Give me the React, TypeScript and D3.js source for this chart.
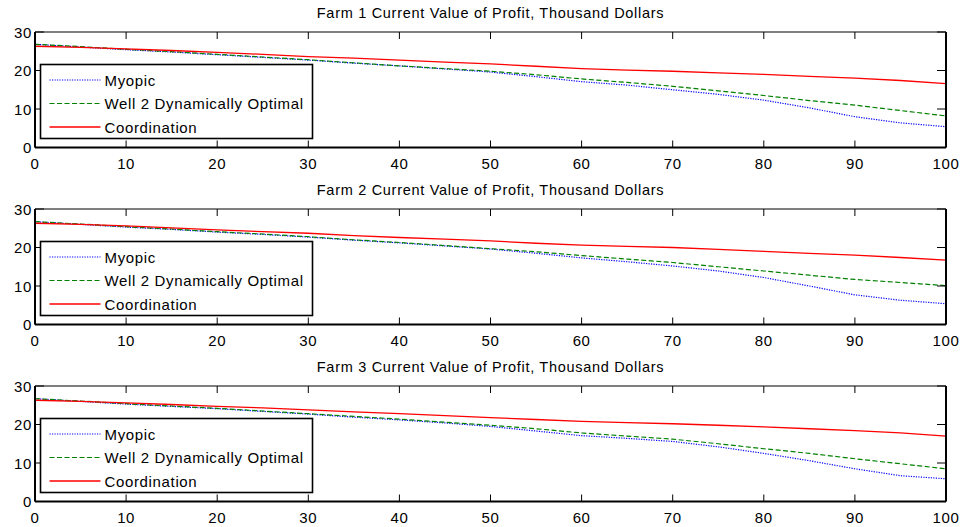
import React, { useEffect, useRef } from 'react'
import * as d3 from 'd3'

const periods = [0, 5, 10, 15, 20, 25, 30, 35, 40, 45, 50, 55, 60, 65, 70, 75, 80, 85, 90, 95, 100]

const farm1Myopic = [26.8, 26.1, 25.4, 24.8, 24.1, 23.4, 22.7, 21.9, 21.2, 20.4, 19.6, 18.4, 17.1, 16.2, 15.0, 13.8, 12.3, 10.3, 8.0, 6.4, 5.4]
const farm1Optimal = [26.8, 26.2, 25.5, 24.9, 24.2, 23.5, 22.8, 22.0, 21.2, 20.5, 19.8, 18.9, 17.8, 16.9, 15.9, 14.7, 13.5, 12.2, 11.0, 9.6, 8.2]
const farm1Coord = [26.3, 26.0, 25.6, 25.2, 24.7, 24.2, 23.6, 23.2, 22.7, 22.2, 21.7, 21.1, 20.5, 20.1, 19.8, 19.4, 19.0, 18.5, 18.0, 17.4, 16.6]

const farm2Myopic = [26.7, 26.0, 25.3, 24.7, 24.0, 23.4, 22.7, 21.9, 21.2, 20.4, 19.6, 18.5, 17.3, 16.3, 15.2, 13.9, 12.2, 10.0, 7.7, 6.3, 5.4]
const farm2Optimal = [26.7, 26.1, 25.4, 24.8, 24.1, 23.5, 22.8, 22.0, 21.3, 20.5, 19.7, 18.9, 17.9, 17.0, 16.1, 15.0, 13.9, 12.8, 11.7, 10.9, 10.1]
const farm2Coord = [26.3, 26.0, 25.6, 25.1, 24.6, 24.1, 23.7, 23.1, 22.6, 22.2, 21.7, 21.1, 20.6, 20.3, 20.0, 19.5, 19.0, 18.5, 18.0, 17.4, 16.7]

const farm3Myopic = [26.7, 26.0, 25.3, 24.7, 24.1, 23.4, 22.7, 21.9, 21.2, 20.4, 19.5, 18.3, 17.1, 16.4, 15.6, 14.2, 12.5, 10.6, 8.5, 6.7, 5.9]
const farm3Optimal = [26.7, 26.1, 25.4, 24.8, 24.2, 23.5, 22.8, 22.1, 21.4, 20.6, 19.8, 18.9, 17.8, 17.0, 16.2, 15.0, 13.7, 12.5, 11.1, 9.8, 8.5]
const farm3Coord = [26.3, 26.0, 25.6, 25.2, 24.7, 24.3, 23.8, 23.3, 22.8, 22.3, 21.8, 21.3, 20.8, 20.5, 20.2, 19.8, 19.4, 18.9, 18.4, 17.8, 17.0]

const titles = [
  'Farm 1 Current Value of Profit, Thousand Dollars',
  'Farm 2 Current Value of Profit, Thousand Dollars',
  'Farm 3 Current Value of Profit, Thousand Dollars',
]
const seriesNames = ['Myopic', 'Well 2 Dynamically Optimal', 'Coordination']
const xTicks = [0, 10, 20, 30, 40, 50, 60, 70, 80, 90, 100]
const yTicks = [0, 10, 20, 30]

const panels = [
  [farm1Myopic, farm1Optimal, farm1Coord],
  [farm2Myopic, farm2Optimal, farm2Coord],
  [farm3Myopic, farm3Optimal, farm3Coord],
]

const styles = [
  { color: '#0000ff', dash: '1.2 1.3', width: 1.2 },
  { color: '#008000', dash: '5 2.5', width: 1.2 },
  { color: '#ff0000', dash: null, width: 1.3 },
]

const W = 962
const H = 527
const FONT = 'Liberation Sans, Arial, Helvetica, sans-serif'

export default function App() {
  const ref = useRef<SVGSVGElement>(null)

  useEffect(() => {
    const svg = d3.select(ref.current)
    svg.selectAll('*').remove()
    svg.append('rect').attr('width', W).attr('height', H).attr('fill', '#fff')

    const left = 35
    const right = 946
    const tops = [32, 209, 386]
    const plotH = 115.5

    const x = d3.scaleLinear().domain([0, 100]).range([left, right])

    panels.forEach((series, pi) => {
      const top = tops[pi]
      const bottom = top + plotH
      const y = d3.scaleLinear().domain([0, 30]).range([bottom, top])
      const g = svg.append('g')

      // title
      g.append('text')
        .attr('x', (left + right) / 2)
        .attr('y', top - 14)
        .attr('text-anchor', 'middle')
        .attr('font-family', FONT)
        .attr('font-size', 14.5)
        .attr('letter-spacing', 0.7)
        .attr('fill', '#000')
        .text(titles[pi])

      // data lines
      const clipId = 'clip' + pi
      svg.append('clipPath').attr('id', clipId)
        .append('rect').attr('x', left).attr('y', top).attr('width', right - left).attr('height', plotH)

      series.forEach((vals, si) => {
        const st = styles[si]
        const ln = d3.line<number>()
          .x((_, i) => x(periods[i]))
          .y(d => y(d))
        g.append('path')
          .datum(vals)
          .attr('clip-path', `url(#${clipId})`)
          .attr('fill', 'none')
          .attr('stroke', st.color)
          .attr('stroke-width', st.width)
          .attr('stroke-dasharray', st.dash)
          .attr('d', ln)
      })

      // ticks, inward on all four sides
      xTicks.forEach(t => {
        g.append('line').attr('x1', x(t)).attr('x2', x(t)).attr('y1', bottom).attr('y2', bottom - 7)
          .attr('stroke', '#000').attr('stroke-width', 1)
        g.append('line').attr('x1', x(t)).attr('x2', x(t)).attr('y1', top).attr('y2', top + 7)
          .attr('stroke', '#000').attr('stroke-width', 1)
        g.append('text')
          .attr('x', x(t))
          .attr('y', bottom + 21)
          .attr('text-anchor', 'middle')
          .attr('font-family', FONT)
          .attr('font-size', 15)
          .attr('letter-spacing', 0.6)
          .text(t)
      })
      yTicks.forEach(t => {
        g.append('line').attr('x1', left).attr('x2', left + 9).attr('y1', y(t)).attr('y2', y(t))
          .attr('stroke', '#000').attr('stroke-width', 1)
        g.append('line').attr('x1', right).attr('x2', right - 9).attr('y1', y(t)).attr('y2', y(t))
          .attr('stroke', '#000').attr('stroke-width', 1)
        g.append('text')
          .attr('x', 32)
          .attr('y', y(t) + 5.5)
          .attr('text-anchor', 'end')
          .attr('font-family', FONT)
          .attr('font-size', 15)
          .attr('letter-spacing', 0.6)
          .text(t)
      })

      // axes box
      g.append('line').attr('x1', left).attr('x2', right).attr('y1', top).attr('y2', top)
        .attr('stroke', '#000').attr('stroke-width', 1.2)
      g.append('line').attr('x1', left).attr('x2', right).attr('y1', bottom).attr('y2', bottom)
        .attr('stroke', '#000').attr('stroke-width', 2)
      g.append('line').attr('x1', left).attr('x2', left).attr('y1', top).attr('y2', bottom)
        .attr('stroke', '#000').attr('stroke-width', 2)
      g.append('line').attr('x1', right).attr('x2', right).attr('y1', top).attr('y2', bottom)
        .attr('stroke', '#000').attr('stroke-width', 2)

      // legend
      const lx = 40.5
      const ly = top + 32.5
      const lw = 272
      const lh = 74
      g.append('rect')
        .attr('x', lx).attr('y', ly).attr('width', lw).attr('height', lh)
        .attr('fill', '#fff').attr('stroke', '#000').attr('stroke-width', 1.6)
      seriesNames.forEach((name, si) => {
        const st = styles[si]
        const cy = ly + 15.5 + si * 23.5
        g.append('line')
          .attr('x1', lx + 9).attr('x2', lx + 60).attr('y1', cy).attr('y2', cy)
          .attr('stroke', st.color).attr('stroke-width', st.width)
          .attr('stroke-dasharray', st.dash)
        g.append('text')
          .attr('x', lx + 64)
          .attr('y', cy + 5.5)
          .attr('font-family', FONT)
          .attr('font-size', 15)
          .attr('letter-spacing', 0.65)
          .text(name)
      })
    })
  }, [])

  return (
    <svg
      ref={ref}
      width={W}
      height={H}
      style={{ position: 'absolute', left: 0, top: 0, display: 'block' }}
    />
  )
}
